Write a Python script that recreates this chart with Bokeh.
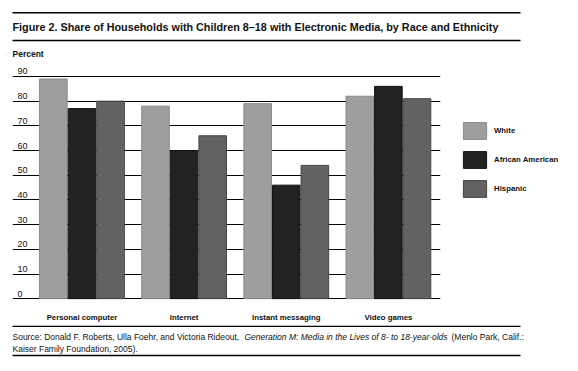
from bokeh.plotting import figure
from bokeh.layouts import column, row
from bokeh.models import (Range1d, FixedTicker, Label, LabelSet, ColumnDataSource,
                          BoxAnnotation, Legend, LegendItem)
from bokeh.core.properties import value
from bokeh.transform import dodge
from bokeh.embed import file_html
from bokeh.resources import INLINE

categories = ["Personal computer", "Internet", "Instant messaging", "Video games"]
series_names = ["White", "African American", "Hispanic"]
white = [89, 78, 79, 82]
african_american = [77, 60, 46, 86]
hispanic = [80, 66, 54, 81]
y_ticks = [0, 10, 20, 30, 40, 50, 60, 70, 80, 90]
y_tick_labels = [str(v) for v in y_ticks]

title_text = "Figure 2. Share of Households with Children 8\u201318 with Electronic Media, by Race and Ethnicity"
src_a = "Source: Donald F. Roberts, Ulla Foehr, and Victoria Rideout,"
src_b = "Generation M: Media in the Lives of 8- to 18-year-olds"
src_c = "(Menlo Park, Calif.:"
src_d = "Kaiser Family Foundation, 2005)."

FONT = "Liberation Sans"
TXT = "#111111"
W = 578


def blank_fig(w, h):
    f = figure(width=w, height=h, output_backend="svg", toolbar_location=None,
               x_range=Range1d(0, w), y_range=Range1d(0, h), min_border=0)
    f.min_border_left = f.min_border_right = f.min_border_top = f.min_border_bottom = 0
    f.axis.visible = False
    f.grid.visible = False
    f.outline_line_color = None
    return f


def add_text(f, h, s, cx, cy, size, style="normal"):
    f.add_layout(Label(x=cx, y=h - cy, x_units="screen", y_units="screen", text=s,
                       text_font=FONT, text_font_size=size, text_font_style=style,
                       text_color=TXT, text_baseline="middle", text_align="left"))


def add_rule(f, h, cy, x0=12, x1=520, t=1.4):
    f.add_layout(BoxAnnotation(left=x0, right=x1, top=h - cy, bottom=h - cy - t,
                               left_units="screen", right_units="screen",
                               top_units="screen", bottom_units="screen",
                               fill_color="black", fill_alpha=1, line_color=None))


# ---- top block (title, rules, "Percent")
HT = 65
top = blank_fig(W, HT)
add_rule(top, HT, 11.6)
add_text(top, HT, title_text, 12, 26, "10.8px", "bold")
add_rule(top, HT, 39.3)
add_text(top, HT, "Percent", 12, 53, "8.5px", "bold")

# ---- main chart
HM = 260
MW = 448
src = ColumnDataSource(dict(x=list(range(len(categories))), cat=categories,
                            white=white, aa=african_american, hisp=hispanic))
p = figure(width=MW, height=HM, output_backend="svg", toolbar_location=None,
           x_range=Range1d(-0.68, 3.51), y_range=Range1d(-0.3, 94.45))
p.min_border_left = 12
p.min_border_right = 8
p.min_border_top = 0
p.min_border_bottom = 26
p.outline_line_color = None
p.yaxis.visible = False
xa = p.xaxis[0]
xa.ticker = FixedTicker(ticks=list(range(len(categories))))
xa.major_label_overrides = {i: c for i, c in enumerate(categories)}
xa.axis_line_color = None
xa.major_tick_line_color = None
xa.minor_tick_line_color = None
xa.major_label_standoff = 7
xa.major_label_text_font = FONT
xa.major_label_text_font_style = "bold"
xa.major_label_text_font_size = "7.8px"
xa.major_label_text_color = TXT

p.xgrid.visible = False
p.ygrid.ticker = FixedTicker(ticks=y_ticks)
p.ygrid.grid_line_color = "black"
p.ygrid.grid_line_width = 1.2

fills = ["#9e9e9e", "#222222", "#626262"]
lines = ["#8a8a8a", "#111111", "#444444"]
cols = ["white", "aa", "hisp"]
offs = [-0.28, 0.0, 0.28]
for col, off, fc, lc in zip(cols, offs, fills, lines):
    p.vbar(x=dodge("x", off), top=col, width=0.27, bottom=0, source=src,
           fill_color=fc, line_color=lc, line_width=1)

tick_src = ColumnDataSource(dict(y=y_ticks, t=y_tick_labels))
p.add_layout(LabelSet(x=5, y="y", text="t", x_units="screen", y_units="data",
                      source=tick_src, y_offset=2, text_baseline="bottom",
                      text_font=value(FONT), text_font_size=value("9px"),
                      text_color=TXT))

# ---- legend block (legend swatches come from hidden copies of the series renderers)
LW = W - MW
lg = blank_fig(LW, HM)
items = []
for name, col, fc, lc in zip(series_names, cols, fills, lines):
    r = lg.vbar(x="x", top=col, width=0.27, source=src, fill_color=fc,
                line_color=lc, line_width=1, visible=False)
    items.append(LegendItem(label=name, renderers=[r]))
legend = Legend(items=items, location=(12, 100), glyph_width=29, glyph_height=21,
                spacing=8, label_standoff=5, padding=0, margin=0,
                border_line_color=None, background_fill_alpha=0,
                label_text_font=FONT, label_text_font_style="bold",
                label_text_font_size="7.8px", label_text_color=TXT,
                label_height=21, inactive_fill_alpha=0, click_policy="none")
lg.add_layout(legend, "center")

# ---- bottom block (source)
HB = 46
bot = blank_fig(W, HB)
add_rule(bot, HB, 0)
add_text(bot, HB, src_a, 12, 11, "8.5px")
add_text(bot, HB, src_b, 244, 11, "8.5px", "italic")
add_text(bot, HB, src_c, 451, 11, "8.5px")
add_text(bot, HB, src_d, 12, 23, "8.5px")
add_rule(bot, HB, 29.3)

layout = column(top, row(p, lg, spacing=0), bot, spacing=0)
open("out.html", "w").write(file_html(layout, INLINE))
